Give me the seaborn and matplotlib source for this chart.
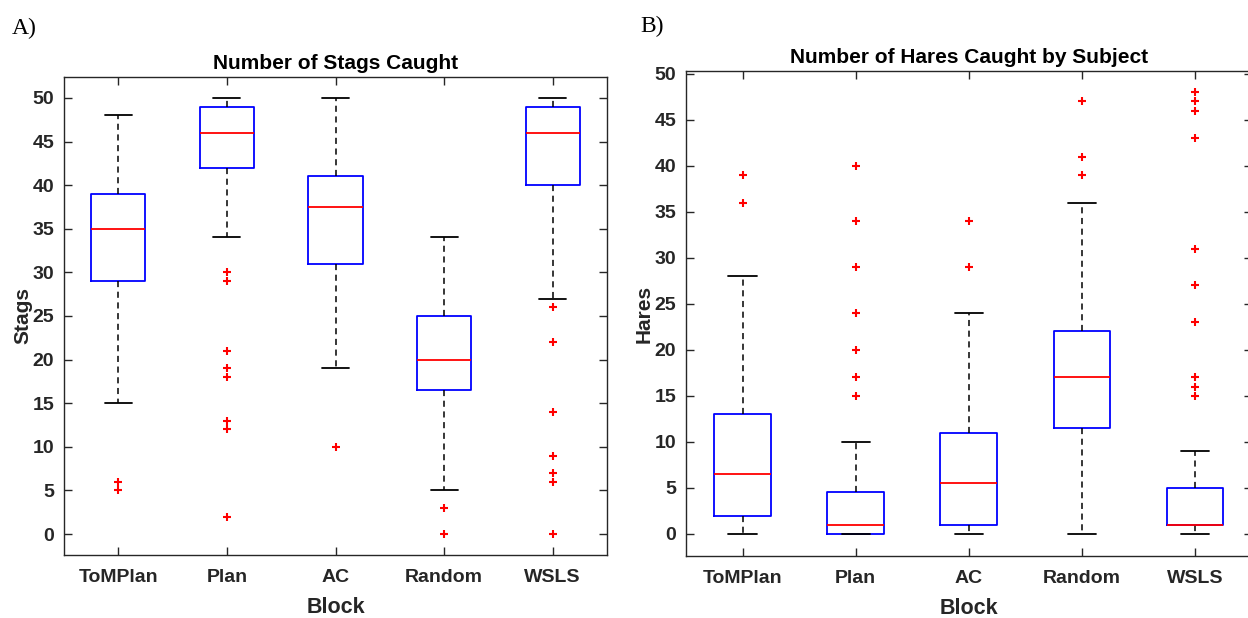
import matplotlib
matplotlib.use("Agg")
import matplotlib.pyplot as plt
import seaborn as sns
import pandas as pd

# ---------------- data ----------------
blocks = ["ToMPlan", "Plan", "AC", "Random", "WSLS"]

# Panel A: Number of Stags Caught
stag_whislo = [15, 34, 19, 5, 27]
stag_q1     = [29, 42, 31, 16.5, 40]
stag_med    = [35, 46, 37.5, 20, 46]
stag_q3     = [39, 49, 41, 25, 49]
stag_whishi = [48, 50, 50, 34, 50]
stag_outliers = [
    [6, 5],
    [30, 29, 21, 19, 18, 13, 12, 2],
    [10],
    [3, 0],
    [26, 22, 14, 9, 7, 6, 0],
]

# Panel B: Number of Hares Caught by Subject
hare_whislo = [0, 0, 0, 0, 0]
hare_q1     = [2, 0, 1, 11.5, 1]
hare_med    = [6.5, 1, 5.5, 17, 1]
hare_q3     = [13, 4.5, 11, 22, 5]
hare_whishi = [28, 10, 24, 36, 9]
hare_outliers = [
    [39, 36],
    [40, 34, 29, 24, 20, 17, 15],
    [34, 29],
    [47, 41, 39],
    [48, 47, 46, 43, 31, 27, 23, 17, 16, 15],
]

yticks = [0, 5, 10, 15, 20, 25, 30, 35, 40, 45, 50]

# ---------------- style ----------------
sns.set_theme(style="ticks")
plt.rcParams["font.family"] = ["Liberation Sans", "DejaVu Sans"]
dark = "#262626"

fig = plt.figure(figsize=(12.48, 6.18), dpi=100)
axA = fig.add_axes([64 / 1248, 1 - 555 / 618, (607 - 64) / 1248, (555 - 77) / 618])
axB = fig.add_axes([686 / 1248, 1 - 556 / 618, (1251.5 - 686) / 1248, (556 - 71) / 618])


def draw_panel(ax, whislo, q1, med, q3, whishi, outliers, title, ylabel, ylim):
    stats = []
    for i, name in enumerate(blocks):
        stats.append(dict(label=name, whislo=whislo[i], q1=q1[i], med=med[i],
                          q3=q3[i], whishi=whishi[i], fliers=[]))
    positions = list(range(1, len(blocks) + 1))
    ax.bxp(stats, positions=positions, widths=0.5, capwidths=0.25,
           showfliers=False, patch_artist=False,
           boxprops=dict(color="blue", linewidth=1.3),
           medianprops=dict(color="red", linewidth=1.3),
           whiskerprops=dict(color="black", linewidth=1.1, linestyle=(0, (4, 3))),
           capprops=dict(color="black", linewidth=1.3))
    rows = []
    for i, vals in enumerate(outliers):
        for v in vals:
            rows.append({"pos": positions[i], "value": v})
    df = pd.DataFrame(rows)
    sns.scatterplot(data=df, x="pos", y="value", ax=ax, marker="+", color="red",
                    s=30, linewidth=1.5, legend=False, zorder=5)
    ax.set_xlim(0.5, len(blocks) + 0.5)
    ax.set_ylim(*ylim)
    ax.set_xticks(positions)
    ax.set_xticklabels(blocks)
    ax.set_yticks(yticks)
    ax.tick_params(direction="in", top=True, right=True, length=6, width=1,
                   color=dark, labelcolor=dark, labelsize=14, pad=7)
    for lab in ax.get_xticklabels() + ax.get_yticklabels():
        lab.set_fontweight("bold")
    ax.tick_params(axis="x", pad=10)
    for sp in ax.spines.values():
        sp.set_visible(True)
        sp.set_color(dark)
        sp.set_linewidth(1.0)
    ax.set_title(title, fontsize=15, fontweight="bold", color="black", pad=6)
    ax.set_xlabel("Block", fontsize=15.5, fontweight="bold", color=dark, labelpad=8)
    ax.set_ylabel(ylabel, fontsize=15, fontweight="bold", color=dark)


draw_panel(axA, stag_whislo, stag_q1, stag_med, stag_q3, stag_whishi, stag_outliers,
           "Number of Stags Caught", "Stags", (-2.4, 52.4))
draw_panel(axB, hare_whislo, hare_q1, hare_med, hare_q3, hare_whishi, hare_outliers,
           "Number of Hares Caught by Subject", "Hares", (-2.4, 50.3))

axA.yaxis.set_label_coords(-0.058, 0.5)
axB.yaxis.set_label_coords(-0.058, 0.5)

fig.text(12 / 1248, 1 - 28 / 618, "A)", fontsize=17, family=["Liberation Serif", "DejaVu Serif"],
         va="center", ha="left", color="black")
fig.text(640 / 1248, 1 - 26 / 618, "B)", fontsize=17, family=["Liberation Serif", "DejaVu Serif"],
         va="center", ha="left", color="black")

fig.savefig("out.png", dpi=100)
